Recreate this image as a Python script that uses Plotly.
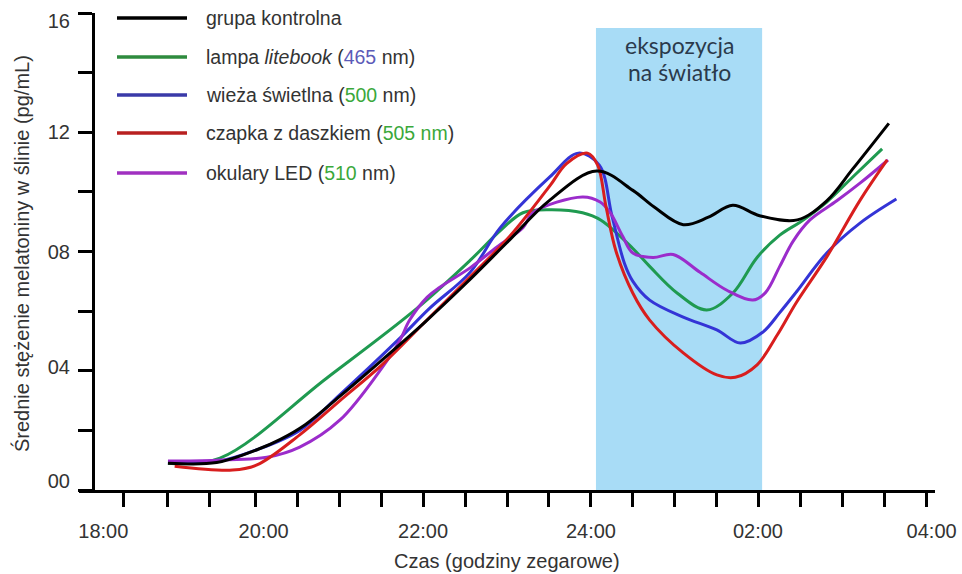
import plotly.graph_objects as go

# ---------------- data (hours; after midnight written as 24+) ----------------
black_x = [18.96, 19.54, 20.02, 20.30, 20.60, 21.01, 21.51, 22.01, 22.50, 23.00, 23.50, 24.07, 24.50, 24.75, 25.10, 25.40, 25.69, 26.01, 26.46, 26.81, 27.12, 27.55]
black_y = [0.90, 0.92, 1.35, 1.70, 2.20, 3.15, 4.36, 5.60, 6.90, 8.30, 9.70, 10.70, 10.05, 9.50, 8.90, 9.15, 9.55, 9.20, 9.06, 9.70, 10.77, 12.30]

green_x = [18.96, 19.58, 20.85, 21.93, 22.56, 22.92, 23.19, 23.51, 23.90, 24.12, 24.50, 24.70, 25.03, 25.38, 25.69, 25.98, 26.25, 26.50, 26.81, 27.12, 27.47]
green_y = [0.90, 1.07, 3.75, 6.10, 7.70, 8.70, 9.30, 9.40, 9.30, 9.05, 8.10, 7.50, 6.60, 6.04, 6.60, 7.80, 8.55, 9.00, 9.66, 10.50, 11.44]

blue_x = [18.96, 19.54, 20.02, 20.53, 21.01, 21.69, 22.08, 22.56, 22.92, 23.51, 23.85, 24.10, 24.25, 24.40, 24.50, 24.70, 25.10, 25.50, 25.78, 26.05, 26.25, 26.45, 26.81, 27.21, 27.64]
blue_y = [0.95, 0.95, 1.35, 2.00, 3.20, 5.00, 6.10, 7.30, 8.80, 10.50, 11.30, 10.90, 9.20, 7.60, 7.00, 6.37, 5.80, 5.37, 4.93, 5.30, 5.95, 6.65, 7.95, 8.96, 9.76]

red_x = [19.04, 19.73, 20.02, 20.53, 21.01, 21.51, 22.01, 22.56, 23.03, 23.51, 23.71, 23.96, 24.08, 24.18, 24.30, 24.50, 24.70, 25.10, 25.50, 25.72, 25.98, 26.22, 26.45, 26.81, 27.21, 27.53]
red_y = [0.80, 0.67, 0.84, 1.85, 3.00, 4.20, 5.60, 7.15, 8.50, 10.20, 10.95, 11.30, 10.90, 9.50, 8.00, 6.60, 5.70, 4.60, 3.86, 3.78, 4.20, 5.20, 6.30, 7.82, 9.73, 11.07]

purple_x = [18.96, 19.54, 20.14, 20.53, 21.01, 21.51, 21.72, 21.84, 22.05, 22.20, 22.56, 22.88, 23.19, 23.31, 23.90, 24.11, 24.23, 24.38, 24.50, 24.74, 24.98, 25.30, 25.62, 25.93, 26.08, 26.25, 26.41, 26.61, 26.93, 27.21, 27.54]
purple_y = [0.97, 1.00, 1.10, 1.44, 2.35, 4.10, 5.00, 5.70, 6.47, 6.80, 7.45, 8.15, 8.80, 9.30, 9.83, 9.66, 9.30, 8.50, 7.95, 7.80, 7.90, 7.30, 6.70, 6.37, 6.62, 7.50, 8.35, 9.06, 9.70, 10.30, 11.07]

series_names = [
    "grupa kontrolna",
    "lampa <i>litebook</i> (<span style='color:#5b5bb8'>465</span> nm)",
    "wieża świetlna (<span style='color:#3aa83a'>500</span> nm)",
    "czapka z daszkiem (<span style='color:#3aa83a'>505 nm</span>)",
    "okulary LED (<span style='color:#3aa83a'>510</span> nm)",
]
plain_names = ["grupa kontrolna", "lampa litebook (465 nm)", "wieża świetlna (500 nm)",
               "czapka z daszkiem (505 nm)", "okulary LED (510 nm)"]
series_colors = ["#000000", "#1f9a50", "#3434d6", "#d81e1e", "#9b2ccb"]
legend_colors = ["#000000", "#2e8b3e", "#3a3aa8", "#b82020", "#a030c0"]

# axis ticks
x_tick_pos = [18.43, 18.95, 19.45, 20.0, 20.5, 21.0, 21.5, 22.0, 22.5, 23.0, 23.5, 24.0,
              24.5, 25.0, 25.5, 26.0, 26.5, 27.0, 27.5, 28.0]
x_label_pos = [18.19, 20.10, 22.0, 24.0, 25.99, 28.06]
x_label_txt = ["18:00", "20:00", "22:00", "24:00", "02:00", "04:00"]
y_tick_pos = [0, 2, 4, 6, 8, 10, 12, 14, 16]
y_label_pos = [0.3, 4.13, 8.0, 12.0, 15.73]
y_label_txt = ["00", "04", "08", "12", "16"]

exposure_start, exposure_end, exposure_top = 24.06, 26.04, 15.5

# ---------------- figure ----------------
W, H = 962, 574
ML, MR, MT, MB = 79, 27, 13, 84
PW, PH = W - ML - MR, H - MT - MB

def px2paper_x(px):
    return (px - ML) / PW

def px2paper_y(py):
    return (H - MB - py) / PH

FONT = "Liberation Sans, Arial, sans-serif"
TXT = "#333333"

fig = go.Figure()

xs = [black_x, green_x, blue_x, red_x, purple_x]
ys = [black_y, green_y, blue_y, red_y, purple_y]
for i in [1, 2, 4, 3, 0]:
    fig.add_trace(go.Scatter(
        x=xs[i], y=ys[i], mode="lines", name=plain_names[i],
        line=dict(color=series_colors[i], width=3, shape="spline", smoothing=1.0),
        showlegend=False, hoverinfo="skip"))

# dummy trace so the label-only axes exist
fig.add_trace(go.Scatter(x=[], y=[], xaxis="x2", yaxis="y2", showlegend=False, hoverinfo="skip"))

# exposure band
fig.add_shape(type="rect", xref="x", yref="y", x0=exposure_start, x1=exposure_end,
              y0=0, y1=exposure_top, fillcolor="#a8dcf6", line=dict(width=0), layer="below")

# exposure text
mid = (exposure_start + exposure_end) / 2
fig.add_annotation(x=mid, y=14.93, xref="x", yref="y", text="ekspozycja", showarrow=False,
                   font=dict(family="Lato, sans-serif", size=23, color="#2b3a4c"))
fig.add_annotation(x=mid, y=14.02, xref="x", yref="y", text="na światło", showarrow=False,
                   font=dict(family="Lato, sans-serif", size=23, color="#2b3a4c"))

# manual legend (long line samples as in the original)
legend_rows = [18, 57, 95, 133, 173]
for name, col, ry in zip(series_names, legend_colors, legend_rows):
    fig.add_shape(type="line", xref="paper", yref="paper",
                  x0=px2paper_x(117), x1=px2paper_x(187),
                  y0=px2paper_y(ry), y1=px2paper_y(ry),
                  line=dict(color=col, width=3.5))
    fig.add_annotation(x=px2paper_x(204), y=px2paper_y(ry), xref="paper", yref="paper",
                       text=name, showarrow=False, xanchor="left", yanchor="middle",
                       font=dict(family=FONT, size=19.5, color=TXT))

# axis titles
fig.add_annotation(x=px2paper_x(21), y=px2paper_y(254), xref="paper", yref="paper",
                   text="Średnie stężenie melatoniny w ślinie (pg/mL)", textangle=-90,
                   showarrow=False, xanchor="center", yanchor="middle",
                   font=dict(family=FONT, size=20, color=TXT))
fig.add_annotation(x=px2paper_x(507), y=px2paper_y(561), xref="paper", yref="paper",
                   text="Czas (godziny zegarowe)", showarrow=False,
                   xanchor="center", yanchor="middle",
                   font=dict(family=FONT, size=20, color=TXT))

ypos = px2paper_x(93)
fig.update_layout(
    width=W, height=H,
    margin=dict(l=ML, r=MR, t=MT, b=MB, autoexpand=False),
    paper_bgcolor="white", plot_bgcolor="white",
    xaxis=dict(range=[17.90, 28.10], tickvals=x_tick_pos, ticktext=[""] * len(x_tick_pos),
               ticks="outside", ticklen=14, tickwidth=2.5, tickcolor="black",
               showline=True, linewidth=2.5, linecolor="black", automargin=False,
               showgrid=False, zeroline=False, anchor="y"),
    xaxis2=dict(range=[17.90, 28.10], overlaying="x", anchor="y", side="bottom",
                tickvals=x_label_pos, ticktext=x_label_txt,
                ticks="outside", ticklen=14, tickcolor="rgba(0,0,0,0)",
                ticklabelstandoff=9, automargin=False, ticklabeloverflow="allow",
                tickfont=dict(family=FONT, size=20, color=TXT),
                showline=False, showgrid=False, zeroline=False),
    yaxis=dict(range=[0, 16], tickvals=y_tick_pos, ticktext=[""] * len(y_tick_pos),
               ticks="outside", ticklen=14, tickwidth=2.5, tickcolor="black",
               showline=True, linewidth=2.5, linecolor="black", automargin=False,
               showgrid=False, zeroline=False, anchor="free", position=ypos),
    yaxis2=dict(range=[0, 16], overlaying="y", anchor="free", position=ypos, side="left",
                tickvals=y_label_pos, ticktext=y_label_txt,
                ticks="outside", ticklen=14, tickcolor="rgba(0,0,0,0)",
                ticklabelstandoff=5, automargin=False,
                tickfont=dict(family=FONT, size=20, color=TXT),
                showline=False, showgrid=False, zeroline=False),
    showlegend=False,
)

fig.write_html("out.html")
